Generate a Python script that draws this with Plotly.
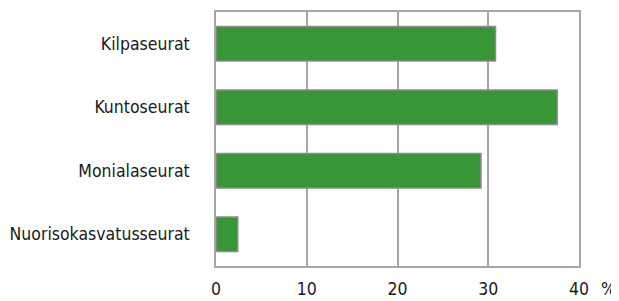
import plotly.graph_objects as go

categories = ["Kilpaseurat", "Kuntoseurat", "Monialaseurat", "Nuorisokasvatusseurat"]
values = [30.8, 37.6, 29.2, 2.4]
tick_vals = [0, 10, 20, 30, 40]
tick_text = ["0", "10", "20", "30", "40"]

font_family = "DejaVu Sans Condensed, Liberation Sans Narrow, sans-serif"
text_color = "#1a1a1a"

fig = go.Figure(go.Bar(
    x=values, y=categories, orientation="h",
    marker=dict(color="#379636", line=dict(color="#8c8c8c", width=1.5)),
    width=0.54,
))

fig.update_layout(
    width=611, height=293,
    margin=dict(l=205, r=40, t=2, b=30),
    paper_bgcolor="white", plot_bgcolor="white",
    font=dict(family=font_family, size=17.5, color=text_color),
    showlegend=False,
)
fig.update_xaxes(
    range=[0, 40], tickvals=tick_vals, ticktext=tick_text,
    showgrid=True, gridcolor="#a6a6a6", gridwidth=1.5,
    zeroline=False, showline=True, linecolor="#a6a6a6", linewidth=1.5, mirror=True,
    ticks="", ticklabelstandoff=6,
)
fig.update_yaxes(
    categoryorder="array", categoryarray=categories[::-1],
    range=[-0.5, 3.5],
    showgrid=False, zeroline=False,
    showline=True, linecolor="#a6a6a6", linewidth=1.5, mirror=True,
    ticks="", ticklabelstandoff=21,
)
fig.add_annotation(
    text="%", xref="paper", yref="paper", x=1.0, y=0, yshift=-23,
    xshift=29, showarrow=False, xanchor="center", yanchor="middle",
    font=dict(family=font_family, size=17.5, color=text_color),
)
fig.write_html("out.html")
